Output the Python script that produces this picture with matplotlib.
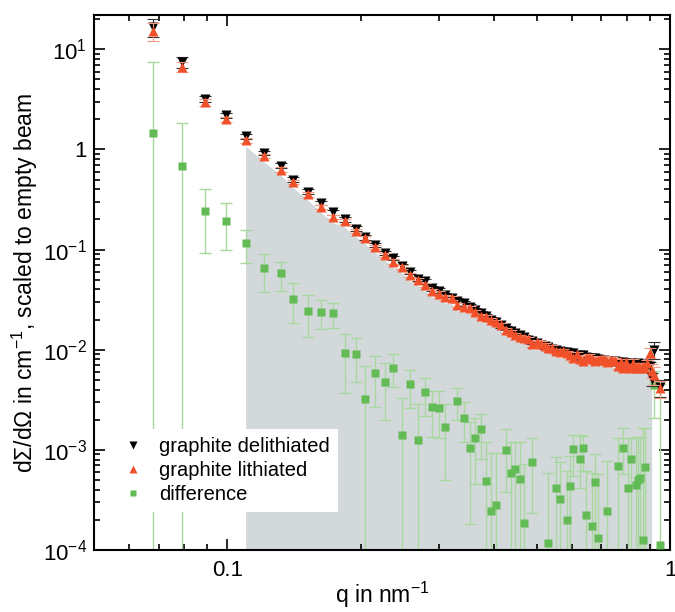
import numpy as np
import matplotlib
matplotlib.use('Agg')
import matplotlib.pyplot as plt
from matplotlib.lines import Line2D
from matplotlib.ticker import LogLocator, FuncFormatter, NullFormatter

plt.rcParams['font.family'] = ['Liberation Sans', 'DejaVu Sans']
plt.rcParams['mathtext.fontset'] = 'custom'
plt.rcParams['mathtext.rm'] = 'Liberation Sans'
plt.rcParams['mathtext.it'] = 'Liberation Sans:italic'

# Scattering vector q in nm^-1
q = [0.068, 0.079, 0.089, 0.0995, 0.110, 0.121, 0.132, 0.141, 0.152, 0.163,
     0.173, 0.184, 0.195, 0.205, 0.216, 0.227, 0.237, 0.248, 0.258, 0.269,
     0.279, 0.290, 0.300, 0.311, 0.321, 0.331, 0.342, 0.353, 0.363, 0.374,
     0.384, 0.395, 0.405, 0.416, 0.426, 0.437, 0.447, 0.458, 0.468, 0.479,
     0.489, 0.500, 0.510, 0.521, 0.531, 0.542, 0.552, 0.563, 0.573, 0.584,
     0.594, 0.605, 0.615, 0.626, 0.636, 0.647, 0.657, 0.668, 0.678, 0.689,
     0.699, 0.710, 0.720, 0.731, 0.741, 0.752, 0.762, 0.773, 0.783, 0.794,
     0.804, 0.815, 0.825, 0.836, 0.846, 0.857, 0.867, 0.878, 0.888, 0.899,
     0.909, 0.920, 0.950]

# graphite delithiated
delith = [16.6, 7.4, 3.2, 2.2, 1.35, 0.92, 0.69, 0.50, 0.38, 0.29,
          0.235, 0.200, 0.162, 0.132, 0.112, 0.093, 0.083, 0.068, 0.060, 0.051,
          0.048, 0.041, 0.039, 0.035, 0.0325, 0.0310, 0.0290, 0.0270, 0.0250, 0.0232,
          0.0215, 0.0200, 0.0190, 0.0175, 0.0166, 0.0155, 0.0147, 0.0140, 0.0133, 0.0126,
          0.0122, 0.0116, 0.0112, 0.0108, 0.0106, 0.0101, 0.0100, 0.0098, 0.0094, 0.0094,
          0.0093, 0.0092, 0.0087, 0.0089, 0.0088, 0.0085, 0.0082, 0.0083, 0.0082, 0.0080,
          0.0078, 0.0079, 0.0078, 0.0076, 0.0075, 0.0077, 0.0076, 0.0074, 0.0075, 0.0073,
          0.0071, 0.0074, 0.0072, 0.0070, 0.0073, 0.0071, 0.0070, 0.0072, 0.0069, 0.0068,
          0.0051, 0.0100, 0.0042]

# graphite lithiated
lith = [15.2, 6.7, 2.95, 2.0, 1.23, 0.855, 0.63, 0.47, 0.355, 0.266,
        0.212, 0.191, 0.153, 0.129, 0.106, 0.088, 0.076, 0.0666, 0.0555, 0.0497,
        0.0442, 0.0383, 0.0364, 0.0333, 0.0328, 0.0279, 0.0269, 0.0260, 0.0237, 0.0216,
        0.0210, 0.0198, 0.0187, 0.0178, 0.0156, 0.0149, 0.0140, 0.0135, 0.0131, 0.0129,
        0.0114, 0.0119, 0.0115, 0.0110, 0.0105, 0.0104, 0.0096, 0.0095, 0.0097, 0.0092,
        0.0089, 0.0082, 0.0090, 0.0081, 0.0078, 0.0083, 0.0085, 0.0081, 0.0077, 0.0079,
        0.0081, 0.0080, 0.0076, 0.0078, 0.0079, 0.0078, 0.0069, 0.0076, 0.0065, 0.0075,
        0.0067, 0.0066, 0.0074, 0.0066, 0.0068, 0.0066, 0.0069, 0.0065, 0.0073, 0.0093,
        0.0062, 0.0056, 0.0041]

# relative uncertainty of both curves
rel_err = [0.21, 0.12, 0.07, 0.06, 0.05, 0.05, 0.05, 0.05, 0.05, 0.05,
           0.05, 0.05, 0.05, 0.05, 0.05, 0.05, 0.05, 0.05, 0.05, 0.05,
           0.05, 0.05, 0.05, 0.05, 0.05, 0.05, 0.05, 0.05, 0.05, 0.05,
           0.05, 0.05, 0.05, 0.05, 0.05, 0.05, 0.05, 0.05, 0.05, 0.05,
           0.06, 0.06, 0.06, 0.06, 0.06, 0.06, 0.06, 0.06, 0.06, 0.06,
           0.06, 0.06, 0.06, 0.06, 0.06, 0.06, 0.07, 0.07, 0.07, 0.07,
           0.07, 0.07, 0.07, 0.07, 0.07, 0.07, 0.07, 0.07, 0.07, 0.07,
           0.08, 0.08, 0.08, 0.08, 0.08, 0.08, 0.08, 0.08, 0.08, 0.12,
           0.15, 0.20, 0.20]

# difference delithiated - lithiated (only positive values show on log axis)
q_diff = [0.068, 0.079, 0.089, 0.0995, 0.110, 0.121, 0.132, 0.141, 0.152, 0.163,
          0.173, 0.184, 0.195, 0.205, 0.216, 0.227, 0.237, 0.248, 0.258, 0.269,
          0.279, 0.290, 0.300, 0.311, 0.331, 0.342, 0.353, 0.363, 0.374, 0.384,
          0.395, 0.405, 0.426, 0.437, 0.447, 0.458, 0.468, 0.489, 0.531, 0.552,
          0.563, 0.584, 0.594, 0.605, 0.626, 0.636, 0.647, 0.668, 0.678, 0.689,
          0.720, 0.762, 0.783, 0.804, 0.815, 0.836, 0.846, 0.857, 0.867, 0.878,
          0.920, 0.950]
diff = [1.45, 0.68, 0.245, 0.195, 0.117, 0.065, 0.058, 0.032, 0.0245, 0.024,
        0.023, 0.0093, 0.0091, 0.0032, 0.0058, 0.0048, 0.0066, 0.0014, 0.0045, 0.00126,
        0.0038, 0.0027, 0.0026, 0.0017, 0.0031, 0.0021, 0.00105, 0.0013, 0.0016, 0.00049,
        0.000245, 0.00028, 0.0010, 0.00059, 0.00065, 0.00051, 0.000186, 0.00076, 0.000117, 0.00042,
        0.00032, 0.0002, 0.00044, 0.00102, 0.00081, 0.00105, 0.000224, 0.000174, 0.00048, 0.000132,
        0.000245, 0.00069, 0.00105, 0.00042, 0.00081, 0.00045, 0.0005, 0.00052, 0.000126, 0.00068,
        0.0044, 0.000112]
diff_hi = [7.4, 1.82, 0.40, 0.295, 0.158, 0.091, 0.076, 0.046, 0.035, 0.0316,
           0.0295, 0.0145, 0.0132, 0.0068, 0.0087, 0.0074, 0.0091, 0.0033, 0.0063, 0.0029,
           0.0052, 0.0039, 0.0039, 0.0029, 0.0041, 0.0030, 0.0019, 0.0021, 0.0023, 0.0012,
           0.00093, 0.00093, 0.0016, 0.0012, 0.0012, 0.0012, 0.00072, 0.0013, 0.00059, 0.00085,
           0.00076, 0.00062, 0.00087, 0.0014, 0.0014, 0.00138, 0.00062, 0.00059, 0.00091, 0.00058,
           0.00078, 0.00132, 0.00166, 0.00132, 0.0013, 0.0013, 0.00135, 0.00135, 0.00166, 0.00166,
           0.0062, 0.0045]
# lower bound; 0 means the bar runs below the axis
diff_lo = [0, 0, 0.093, 0.098, 0.074, 0.038, 0.039, 0.0186, 0.0135, 0.0162,
           0.0166, 0.0037, 0.0048, 0, 0.0027, 0.0020, 0.0042, 0, 0.0026, 0,
           0.0022, 0.00135, 0.0013, 0.0005, 0.0020, 0.0012, 0.00018, 0.00046, 0.00081, 0,
           0, 0, 0.00038, 0, 0, 0, 0, 0.000234, 0, 0,
           0, 0, 0, 0.00055, 0.00042, 0.00062, 0, 0, 0, 0,
           0, 0, 0.00058, 0, 0, 0, 0, 0, 0, 0,
           0.0021, 0]

q = np.array(q)
delith = np.array(delith)
lith = np.array(lith)
rel_err = np.array(rel_err)
q_diff = np.array(q_diff)
diff = np.array(diff)
diff_hi = np.array(diff_hi)
diff_lo = np.array(diff_lo)
diff_lo[diff_lo == 0] = 1e-6

black = 'black'
red = '#f0502a'
green = '#62bb55'
green_light = '#a9d89e'
gray = '#d3d8db'

fig = plt.figure(figsize=(6.75, 6.12), dpi=100)
ax = fig.add_axes([0.1393, 0.1013, 0.8533, 0.8742])

# integrated region under the curve
sel = (q >= 0.11) & (q <= 0.91)
ax.fill_between(q[sel], 1e-6, np.minimum(delith, lith)[sel] * 0.88,
                color=gray, lw=0, zorder=0)

# difference with error bars
ax.errorbar(q_diff, diff, yerr=[diff - diff_lo, diff_hi - diff], fmt='none',
            ecolor=green_light, elinewidth=1, capsize=4, capthick=1, zorder=2)
ax.plot(q_diff, diff, 's', color=green, ms=6, mec='none', zorder=3)

# delithiated / lithiated curves
ax.errorbar(q, delith, yerr=delith * rel_err, fmt='none', ecolor='#333333',
            elinewidth=0.8, capsize=4, capthick=0.8, zorder=4)
ax.plot(q, delith, 'v', color=black, ms=7.5, mec='none', zorder=5)
ax.errorbar(q, lith, yerr=lith * rel_err, fmt='none', ecolor='#f49a80',
            elinewidth=0.8, capsize=4, capthick=0.8, zorder=6)
ax.plot(q, lith, '^', color=red, ms=7.5, mec='none', zorder=7)

ax.set_xscale('log')
ax.set_yscale('log')
ax.set_xlim(0.05, 1.0)
ax.set_ylim(1e-4, 22)

ax.xaxis.set_major_locator(LogLocator(base=10, numticks=10))
ax.xaxis.set_minor_locator(LogLocator(base=10, subs=np.arange(2, 10), numticks=10))
ax.yaxis.set_major_locator(LogLocator(base=10, numticks=10))
ax.yaxis.set_minor_locator(LogLocator(base=10, subs=np.arange(2, 10), numticks=10))


def xfmt(v, pos):
    return '%g' % v


def yfmt(v, pos):
    e = int(round(np.log10(v)))
    if e == 0:
        return '1'
    return '10$^{%d}$' % e


ax.xaxis.set_major_formatter(FuncFormatter(xfmt))
ax.yaxis.set_major_formatter(FuncFormatter(yfmt))
ax.xaxis.set_minor_formatter(NullFormatter())
ax.yaxis.set_minor_formatter(NullFormatter())

ax.tick_params(which='both', direction='in', top=True, right=True, width=1.2)
ax.tick_params(which='major', length=8, labelsize=16)
ax.tick_params(which='minor', length=4)
ax.tick_params(axis='x', pad=7)
ax.tick_params(axis='y', pad=5)
for s in ax.spines.values():
    s.set_linewidth(1.5)

ax.set_xlabel('q in nm$^{-1}$', fontsize=16.5, labelpad=-1)
ax.set_ylabel('d\u03a3/d\u03a9 in cm$^{-1}$, scaled to empty beam', fontsize=16.5, labelpad=2)

handles = [
    Line2D([], [], ls='none', marker='v', color=black, ms=6, mec='none'),
    Line2D([], [], ls='none', marker='^', color=red, ms=6, mec='none'),
    Line2D([], [], ls='none', marker='s', color=green, ms=5, mec='none'),
]
labels = ['graphite delithiated', 'graphite lithiated', 'difference']
leg = ax.legend(handles, labels, loc='lower left', bbox_to_anchor=(0.036, 0.071),
                fontsize=14.5, frameon=True, fancybox=False, framealpha=1,
                edgecolor='none', facecolor='white', handlelength=1.0,
                handletextpad=0.8, borderpad=0.4, labelspacing=0.25,
                borderaxespad=0)
leg.set_zorder(10)

fig.savefig('out.png', dpi=100)
